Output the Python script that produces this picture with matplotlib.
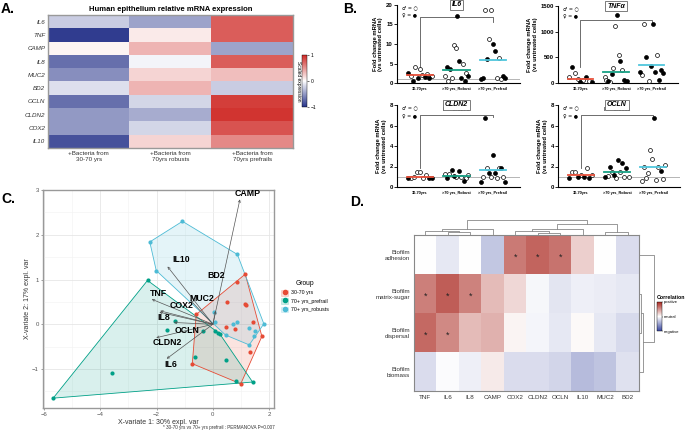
import matplotlib
matplotlib.use("Agg")
import matplotlib.pyplot as plt
import numpy as np
from matplotlib.colors import LinearSegmentedColormap
from matplotlib.lines import Line2D
from matplotlib.patches import Polygon, Rectangle

plt.rcParams['font.family'] = ['Liberation Sans', 'DejaVu Sans']

# --- A: epithelium heatmap (scaled expression) ---
a_genes = ["IL6", "TNF", "CAMP", "IL8", "MUC2", "BD2", "OCLN", "CLDN2", "COX2", "IL10"]
a_groups = ["+Bacteria from\n30-70 yrs", "+Bacteria from\n70yrs robusts", "+Bacteria from\n70yrs prefrails"]
a_young = [-0.25, -0.95, 0.05, -0.7, -0.55, -0.15, -0.7, -0.5, -0.5, -0.85]
a_robust = [-0.45, 0.1, 0.35, -0.05, 0.2, 0.35, -0.2, -0.4, -0.2, 0.2]
a_prefrail = [0.75, 0.75, -0.45, 0.75, 0.3, -0.25, 0.9, 0.95, 0.8, 0.55]

# --- B: fold change per group (1 = female, filled) ---
b_groups = ["30-70yrs", ">70 yrs_Robust", ">70 yrs_Prefrail"]

il6_vals = [[2.6, 1.9, 0.5, 4.0, 1.3, 3.7, 2.1, 1.5, 2.3, 1.4, 1.8],
            [1.8, 4.0, 0.6, 3.5, 1.2, 9.7, 9.0, 17.2, 5.6, 1.3, 4.8, 0.4, 2.5, 1.7],
            [1.1, 1.3, 18.8, 6.2, 11.2, 18.8, 10.0, 8.3, 1.2, 6.5, 1.1, 1.8, 1.2]]
il6_fem = [[1, 0, 1, 0, 1, 0, 0, 1, 0, 1, 0],
           [0, 1, 0, 1, 0, 0, 0, 1, 1, 1, 0, 1, 0, 1],
           [1, 1, 0, 1, 0, 0, 1, 1, 0, 0, 0, 1, 1]]
il6_center = [2.1, 3.3, 5.8]

tnf_vals = [[112, 320, 200, 80, 20, 60, 120, 30, 20],
            [120, 60, 30, 10, 170, 300, 1120, 1320, 550, 420, 250, 50, 20, 40],
            [220, 150, 1150, 500, 30, 330, 1150, 220, 550, 60, 250, 190]]
tnf_fem = [[0, 1, 0, 0, 1, 0, 1, 0, 1],
           [0, 0, 1, 0, 1, 0, 0, 1, 0, 1, 0, 1, 1, 1],
           [1, 0, 0, 1, 0, 1, 1, 1, 0, 1, 1, 1]]
tnf_center = [80, 215, 350]

cldn2_vals = [[0.9, 0.85, 1.0, 1.45, 1.5, 0.9, 1.2, 0.85, 0.9],
              [1.3, 0.85, 1.25, 1.7, 1.1, 0.95, 1.6, 1.0, 0.6, 0.9, 1.2],
              [0.5, 1.0, 6.7, 1.9, 1.4, 0.95, 3.1, 1.4, 0.9, 1.9, 1.9, 1.0, 0.5]]
cldn2_fem = [[1, 0, 0, 0, 0, 0, 0, 1, 1],
             [0, 1, 0, 1, 1, 0, 1, 0, 1, 0, 0],
             [1, 0, 1, 0, 1, 0, 1, 1, 0, 0, 1, 0, 1]]
cldn2_center = [1.0, 1.1, 1.7]

ocln_vals = [[0.9, 1.5, 1.5, 0.95, 1.2, 1.0, 1.9, 0.85, 1.2],
             [0.95, 1.07, 2.0, 1.45, 1.2, 0.9, 2.6, 1.5, 2.3, 1.0, 1.9, 1.0],
             [0.6, 2.0, 0.9, 1.4, 3.6, 2.7, 6.7, 0.7, 2.0, 1.6, 0.8, 2.1]]
ocln_fem = [[1, 0, 0, 1, 0, 1, 0, 1, 0],
            [1, 0, 1, 0, 1, 0, 1, 0, 1, 0, 1, 0],
            [0, 0, 0, 0, 0, 0, 1, 0, 0, 1, 0, 0]]
ocln_center = [1.2, 1.45, 2.0]

# --- C: PLS-DA sample scores + loadings ---
c_groups = ["30-70 yrs", "70+ yrs_prefrail", "70+ yrs_robusts"]
young_x = [-0.59, 1.15, 0.85, 0.51, 1.15, 1.18, 0.45, 0.78, 1.41, 1.74, 1.32, -0.73, 0.99]
young_y = [0.22, 1.12, 0.94, 0.49, 0.46, 0.42, -0.06, -0.10, 0.06, -0.27, -0.61, -0.88, -1.33]
prefrail_x = [-5.67, -3.58, -2.32, -1.33, -1.62, -0.36, 0.09, 0.18, 0.24, -0.62, 0.46, 0.82, 1.41]
prefrail_y = [-1.65, -1.09, 0.98, 0.07, -0.12, -0.16, -0.16, -0.19, -0.21, -0.74, -0.80, -1.26, -1.29]
robust_x = [-1.08, -2.24, -2.01, 0.87, 0.04, 0.07, 0.71, 0.86, 1.27, 1.51, 1.47, 0.45, 1.29, 1.81]
robust_y = [2.30, 1.84, 1.20, 1.56, 0.28, 0.05, 0.01, 0.05, -0.09, -0.16, -0.27, -0.24, -0.46, 0.01]

c_vars = ["CAMP", "IL10", "BD2", "MUC2", "TNF", "COX2", "IL8", "OCLN", "CLDN2", "IL6"]
c_load_x = [0.96, -1.61, 0.10, -0.80, -2.17, -1.87, -1.90, -1.38, -2.01, -1.64]
c_load_y = [2.79, 1.29, 0.30, 0.54, 0.56, 0.30, 0.27, 0.04, -0.30, -0.77]
c_lab_x = [1.24, -1.12, 0.13, -0.40, -1.93, -1.11, -1.73, -0.93, -1.61, -1.50]
c_lab_y = [2.92, 1.44, 1.08, 0.58, 0.69, 0.41, 0.15, -0.13, -0.40, -0.90]

# --- D: correlation heatmap ---
d_genes = ["TNF", "IL6", "IL8", "CAMP", "COX2", "CLDN2", "OCLN", "IL10", "MUC2", "BD2"]
d_traits = ["Biofilm\nadhesion", "Biofilm\nmatrix-sugar", "Biofilm\ndispersal", "Biofilm\nbiomass"]
d_adhesion = [0.0, -0.12, 0.0, -0.3, 0.62, 0.72, 0.65, 0.22, 0.0, -0.18]
d_matrix = [0.6, 0.75, 0.58, 0.32, 0.18, -0.04, -0.14, -0.08, -0.1, -0.12]
d_dispersal = [0.7, 0.55, 0.32, 0.36, 0.05, -0.05, -0.12, 0.03, -0.12, -0.2]
d_biomass = [-0.18, -0.02, -0.08, 0.1, -0.18, -0.18, -0.22, -0.36, -0.32, -0.16]
d_star_rows = [0, 0, 0, 1, 1, 1, 2, 2]
d_star_cols = [4, 5, 6, 0, 1, 2, 0, 1]
# linkage: (child a, child b, height)
d_col_link = [(1, 2, 9), (0, 10, 13), (11, 3, 18), (5, 6, 7), (4, 13, 13),
              (14, 7, 17), (8, 9, 9), (15, 16, 31), (12, 17, 43)]
d_row_link = [(1, 2, 5), (4, 3, 10), (0, 5, 42)]

grp_colors = ["#E64B35", "#00A087", "#4DBBD5"]
mean_colors = ["#e8503a", "#17a085", "#4fc6dc"]

fig = plt.figure(figsize=(6.85, 4.33), dpi=100)

def fx(px):
    return px / 685.0

def fy(px):
    return 1 - px / 433.0

for lab, x, y in [("A.", 1, 2), ("B.", 343, 2), ("C.", 1, 192), ("D.", 350, 195)]:
    fig.text(fx(x), fy(y), lab, fontsize=10, fontweight="bold", va="top", ha="left")

# ---------------- A ----------------
axA = fig.add_axes([fx(48), fy(148), fx(245), 133 / 433])
cmapA = LinearSegmentedColormap.from_list("a", ["#26338a", "#ffffff", "#cf2a26"])
matA = np.column_stack([a_young, a_robust, a_prefrail])
imA = axA.imshow(matA, cmap=cmapA, vmin=-1, vmax=1, aspect="auto")
axA.set_yticks(range(len(a_genes)))
axA.set_yticklabels(a_genes, fontsize=4.5, style="italic", color="#333")
axA.set_xticks(range(3))
axA.set_xticklabels(a_groups, fontsize=4.5, color="#333")
axA.tick_params(length=0, pad=2)
for s in axA.spines.values():
    s.set_color("#999")
    s.set_linewidth(1.0)
axA.set_title("Human epithelium relative mRNA expression", fontsize=5.5,
              fontweight="bold", pad=3)
caxA = fig.add_axes([fx(302), fy(107), fx(5), 52 / 433])
cbA = fig.colorbar(imA, cax=caxA, ticks=[-1, 0, 1])
cbA.ax.tick_params(labelsize=3.5, length=1.5, width=0.4, pad=1)
cbA.outline.set_linewidth(0.3)
caxA.yaxis.set_label_position("left")
cbA.set_label("Scaled expression", fontsize=3.5, rotation=270, labelpad=4)

# ---------------- B ----------------
def fold_panel(rect, vals, fem, centers, ylim, yticks, title, bracket, ptext=None):
    ax = fig.add_axes(rect)
    ax.axhline(1, color="#aaaaaa", lw=0.6, zorder=1)
    for g in range(3):
        v = np.array(vals[g], dtype=float)
        f = np.array(fem[g])
        xs = g + 1 + np.linspace(-0.32, 0.32, len(v))
        ax.scatter(xs[f == 0], v[f == 0], s=8, facecolor="white", edgecolor="black",
                   linewidth=0.5, zorder=3)
        ax.scatter(xs[f == 1], v[f == 1], s=8, facecolor="black", edgecolor="black",
                   linewidth=0.5, zorder=3)
        ax.plot([g + 1 - 0.36, g + 1 + 0.36], [centers[g], centers[g]],
                color=mean_colors[g], lw=1.3, zorder=4)
    lo_l, top, lo_r = bracket
    ax.plot([1, 1, 3, 3], [lo_l, top, top, lo_r], color="#555", lw=0.6, zorder=2)
    if ptext:
        ax.text(2, top + (ylim[1] - ylim[0]) * 0.04, ptext, fontsize=4, ha="center",
                va="bottom")
    ax.set_xlim(0.37, 3.74)
    ax.set_ylim(*ylim)
    ax.set_yticks(yticks)
    ax.set_xticks([1, 2, 3])
    ax.set_xticklabels(b_groups, fontsize=2.8, fontweight="bold")
    ax.tick_params(axis="x", length=0, pad=3)
    ax.tick_params(axis="y", labelsize=4.3, length=2, width=0.6, pad=1)
    for t in ax.get_yticklabels():
        t.set_fontweight("bold")
    for s in ["top", "right"]:
        ax.spines[s].set_visible(False)
    for s in ["left", "bottom"]:
        ax.spines[s].set_linewidth(0.8)
    ax.set_ylabel("Fold change mRNA\n(vs untreated cells)", fontsize=4.2,
                  fontweight="bold", labelpad=2, linespacing=1.1)
    ax.text(2, ylim[1], title, fontsize=5, fontweight="bold", style="italic",
            ha="center", va="center",
            bbox=dict(boxstyle="square,pad=0.25", fc="white", ec="#666", lw=0.6))
    ax.text(0.04, 0.99, "\u2642 = \u25cb", transform=ax.transAxes, fontsize=3.5,
            va="top", ha="left", family=["DejaVu Sans"])
    ax.text(0.04, 0.89, "\u2640 = \u25cf", transform=ax.transAxes, fontsize=3.5,
            va="top", ha="left", family=["DejaVu Sans"])
    return ax

fold_panel([fx(397), fy(83), fx(123), 78 / 433], il6_vals, il6_fem, il6_center,
           (0, 20), [0, 5, 10, 15, 20], "IL6", (3.0, 16.8, 15.6))
fold_panel([fx(558), fy(83), fx(120), 77 / 433], tnf_vals, tnf_fem, tnf_center,
           (0, 1500), [0, 500, 1000, 1500], "TNF\u03b1", (320, 1230, 1140))
fold_panel([fx(397), fy(187), fx(123), 82 / 433], cldn2_vals, cldn2_fem, cldn2_center,
           (0, 8), [0, 2, 4, 6, 8], "CLDN2", (1.85, 7.0, 6.85), "P = 0.1276")
fold_panel([fx(558), fy(187), fx(122), 82 / 433], ocln_vals, ocln_fem, ocln_center,
           (0, 8), [0, 2, 4, 6, 8], "OCLN", (1.85, 7.0, 6.85), "P = 0.0911")

# ---------------- C ----------------
def hull(xs, ys):
    pts = sorted(set(zip(xs, ys)))
    def cross(o, a, b):
        return (a[0] - o[0]) * (b[1] - o[1]) - (a[1] - o[1]) * (b[0] - o[0])
    lower, upper = [], []
    for p in pts:
        while len(lower) >= 2 and cross(lower[-2], lower[-1], p) <= 0:
            lower.pop()
        lower.append(p)
    for p in reversed(pts):
        while len(upper) >= 2 and cross(upper[-2], upper[-1], p) <= 0:
            upper.pop()
        upper.append(p)
    return lower[:-1] + upper[:-1]

axC = fig.add_axes([fx(43), fy(408), fx(231), 218 / 433])
axC.set_xlim(-6.03, 2.17)
axC.set_ylim(-1.87, 3.0)
axC.set_xticks([-6, -4, -2, 0, 2])
axC.set_yticks([-1, 0, 1, 2, 3])
axC.set_xticks([-5, -3, -1, 1], minor=True)
axC.set_yticks([-1.5, -0.5, 0.5, 1.5, 2.5], minor=True)
axC.grid(True, which="major", color="#e6e6e6", lw=0.6)
axC.grid(True, which="minor", color="#f2f2f2", lw=0.4)
axC.set_axisbelow(True)
axC.tick_params(which="both", labelsize=4.3, colors="#555", length=1.5, width=0.4, pad=1.5)
axC.tick_params(which="minor", length=0)
for s in axC.spines.values():
    s.set_color("#999")
    s.set_linewidth(1.0)

handles = []
for (gx, gy), col, lab in zip([(young_x, young_y), (prefrail_x, prefrail_y),
                               (robust_x, robust_y)], grp_colors, c_groups):
    h = hull(gx, gy)
    axC.add_patch(Polygon(h, closed=True, facecolor=col, alpha=0.15, edgecolor="none", zorder=1))
    axC.add_patch(Polygon(h, closed=True, facecolor="none", edgecolor=col, lw=0.6, zorder=2))
    axC.scatter(gx, gy, s=9, color=col, zorder=3, linewidth=0)
    patch = Rectangle((0, 0), 1, 1, facecolor=col, alpha=0.2, edgecolor=col, lw=0.6)
    mk = Line2D([], [], marker="o", color=col, linestyle="none", markersize=3)
    handles.append((patch, mk))

for name, lx, ly, tx, ty in zip(c_vars, c_load_x, c_load_y, c_lab_x, c_lab_y):
    axC.annotate("", xy=(lx, ly), xytext=(0, 0),
                 arrowprops=dict(arrowstyle="->", color="#555", lw=0.5,
                                 mutation_scale=4, shrinkA=0, shrinkB=0), zorder=4)
    axC.text(tx, ty, name, fontsize=6.3, fontweight="bold", ha="center", va="center", zorder=5)

axC.set_xlabel("X-variate 1: 30% expl. var", fontsize=5, color="#333", labelpad=1)
axC.set_ylabel("X-variate 2: 17% expl. var", fontsize=5, color="#333", labelpad=1)
fig.text(fx(275), fy(428), "* 30-70 yrs vs 70+ yrs prefrail : PERMANOVA P=0.007",
         fontsize=3.3, ha="right", va="center", color="#333")
fig.legend(handles=handles, labels=c_groups, loc="upper left",
           bbox_to_anchor=(fx(279), fy(278)), frameon=False, fontsize=3.8,
           title="Group", title_fontsize=4.8, handlelength=1.3, handleheight=1.3,
           labelspacing=0.5, handletextpad=0.5, borderaxespad=0)

# ---------------- D ----------------
axD = fig.add_axes([fx(414), fy(391), fx(225), 156 / 433])
cmapD = LinearSegmentedColormap.from_list("d", ["#3846a0", "#ffffff", "#ab2a22"])
matD = np.array([d_adhesion, d_matrix, d_dispersal, d_biomass])
imD = axD.imshow(matD, cmap=cmapD, vmin=-1, vmax=1, aspect="auto")
for r, c in zip(d_star_rows, d_star_cols):
    axD.text(c, r + 0.08, "*", fontsize=6.5, ha="center", va="center", color="#222")
axD.set_xticks(range(len(d_genes)))
axD.set_xticklabels(d_genes, fontsize=4.5, color="#333")
axD.set_yticks(range(len(d_traits)))
axD.set_yticklabels(d_traits, fontsize=4.5, color="#333", linespacing=1.2)
axD.tick_params(length=0, pad=3)
for s in axD.spines.values():
    s.set_color("#888")
    s.set_linewidth(0.8)

def dendro(ax, links, n, orient):
    pos = {i: i + 0.5 for i in range(n)}
    hgt = {i: 0.0 for i in range(n)}
    for k, (a, b, h) in enumerate(links):
        xa, xb = pos[a], pos[b]
        if orient == "top":
            ax.plot([xa, xa, xb, xb], [hgt[a], h, h, hgt[b]], color="#888", lw=0.6)
        else:
            ax.plot([hgt[a], h, h, hgt[b]], [xa, xa, xb, xb], color="#888", lw=0.6)
        pos[n + k] = (xa + xb) / 2
        hgt[n + k] = h
    ax.axis("off")

axDt = fig.add_axes([fx(414), fy(235), fx(225), 15 / 433])
dendro(axDt, d_col_link, len(d_genes), "top")
axDt.set_xlim(0, len(d_genes))
axDt.set_ylim(0, 44)

axDr = fig.add_axes([fx(639), fy(391), fx(16), 156 / 433])
dendro(axDr, d_row_link, len(d_traits), "right")
axDr.set_ylim(len(d_traits), 0)
axDr.set_xlim(0, 45)

caxD = fig.add_axes([fx(657), fy(331), fx(5), 29 / 433])
cbD = fig.colorbar(imD, cax=caxD, ticks=[-1, 0, 1])
cbD.ax.set_yticklabels(["negative", "neutral", "positive"])
cbD.ax.tick_params(labelsize=3.0, length=1, width=0.3, pad=0.5)
cbD.outline.set_linewidth(0.3)
caxD.text(0, 1.06, "Correlation", transform=caxD.transAxes, fontsize=3.8,
          fontweight="bold", ha="left", va="bottom")

fig.savefig("out.png", dpi=100)
